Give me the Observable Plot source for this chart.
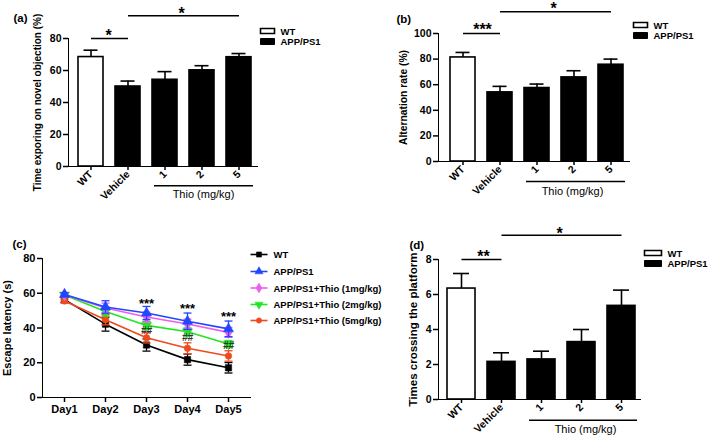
<!DOCTYPE html>
<html><head><meta charset="utf-8">
<script src="https://cdn.jsdelivr.net/npm/d3@7"></script>
<script src="https://cdn.jsdelivr.net/npm/@observablehq/plot@0.6"></script>
<style>
html,body{margin:0;padding:0;background:#fff;}
#fig{position:relative;width:709px;height:439px;overflow:hidden;background:#fff;}
#fig > svg{position:absolute;left:0;top:0;}
#fig g[aria-label*="axis"] path, #fig g[aria-label*="axis"] line{stroke-width:1.5px;}
</style></head><body><div id="fig"></div>
<script>
// ---------- data ----------
const groups = ["WT", "Vehicle", "1", "2", "5"];
const genotype = ["WT", "APP/PS1", "APP/PS1", "APP/PS1", "APP/PS1"];
const novelMean = [68.4, 50.0, 54.2, 60.1, 68.3];
const novelSem = [4.3, 3.4, 5.1, 2.9, 2.3];
const altMean = [81.3, 54.0, 57.4, 65.7, 75.6];
const altSem = [3.9, 4.7, 3.1, 5.2, 4.4];
const crossMean = [6.34, 2.15, 2.29, 3.28, 5.35];
const crossSem = [0.86, 0.52, 0.47, 0.72, 0.90];
const ticksA = [0, 20, 40, 60, 80];
const ticksB = [0, 20, 40, 60, 80, 100];
const ticksC = [0, 20, 40, 60, 80];
const ticksD = [0, 2, 4, 6, 8];

const days = ["Day1", "Day2", "Day3", "Day4", "Day5"];
const seriesNames = ["WT", "APP/PS1", "APP/PS1+Thio (1mg/kg)", "APP/PS1+Thio (2mg/kg)", "APP/PS1+Thio (5mg/kg)"];
const latencyWT = [56.3, 42.2, 30.2, 21.8, 17.1];
const latencyWTSem = [1.5, 4.0, 3.5, 3.2, 3.0];
const latencyAPP = [59.3, 52.1, 48.6, 43.9, 39.5];
const latencyAPPSem = [1.0, 3.6, 3.8, 4.7, 4.5];
const latency1 = [59.2, 51.5, 46.3, 42.3, 37.5];
const latency1Sem = [1.0, 2.8, 2.8, 2.8, 2.8];
const latency2 = [59.0, 49.5, 41.5, 37.8, 30.8];
const latency2Sem = [1.0, 2.5, 2.3, 2.3, 2.0];
const latency5 = [55.5, 44.8, 34.4, 28.3, 23.9];
const latency5Sem = [1.2, 3.0, 3.0, 3.2, 3.0];
const starDays = ["Day3", "Day4", "Day5"];
const starLevel = [54.1, 50.8, 46.4];
const hashLevel = [38.6, 34.4, 29.7];

// ---------- styling ----------
const FONT = "'Liberation Sans', Arial, Helvetica, sans-serif";
const seriesColors = ["#000000", "#2146ff", "#ee5cf0", "#22e622", "#f04a1c"];
const rectSym = (w, h) => ({draw(ctx) { ctx.rect(-w / 2, -h / 2, w, h); }});
const hline = (w) => ({draw(ctx) { ctx.moveTo(-w / 2, 0); ctx.lineTo(w / 2, 0); }});
const triDown = {draw(ctx, size) {
  const y = -Math.sqrt(size / (Math.sqrt(3) * 3));
  ctx.moveTo(0, -2 * y); ctx.lineTo(-Math.sqrt(3) * y, y); ctx.lineTo(Math.sqrt(3) * y, y); ctx.closePath();
}};
const fig = document.getElementById("fig");

function helpers(P) {
  const T = (text, px, py, o = {}) => Plot.text([text], {frameAnchor: "top-left", dx: px - P.ml, dy: py - P.mt, textAnchor: "start", lineAnchor: "middle", ...o});
  const D = (px, py, o = {}) => Plot.dot([0], {frameAnchor: "top-left", dx: px - P.ml, dy: py - P.mt, ...o});
  return {T, D};
}

function barPanel(cfg) {
  const P = cfg.box;
  const {T, D} = helpers(P);
  const rows = groups.map((g, i) => ({group: g, geno: genotype[i], mean: cfg.mean[i], sem: cfg.sem[i]}));
  const wt = rows.filter(d => d.geno === "WT");
  const tg = rows.filter(d => d.geno !== "WT");
  const star = (t, px, cy, fs = 16) => T(t, px, cy + 0.56 * fs, {textAnchor: "middle", lineAnchor: "bottom", fontSize: fs, fontWeight: "bold"});
  const marks = [
    Plot.ruleX(rows, {x: "group", y1: "mean", y2: d => d.mean + d.sem, strokeWidth: 1.6}),
    Plot.tickY(rows, {x: "group", y: d => d.mean + d.sem, insetLeft: cfg.cap, insetRight: cfg.cap, strokeWidth: 1.6}),
    Plot.barY(wt, {x: "group", y: "mean", fill: "white", stroke: "black", strokeWidth: 1.6}),
    Plot.barY(tg, {x: "group", y: "mean", fill: "black", stroke: "black", strokeWidth: 1.6}),
    // significance bars
    Plot.link([0], {x1: () => "WT", x2: () => "Vehicle", y1: () => cfg.sig1, y2: () => cfg.sig1, strokeWidth: 1.5}),
    Plot.link([0], {x1: () => "Vehicle", x2: () => "5", y1: () => cfg.sig2, y2: () => cfg.sig2, strokeWidth: 1.5}),
    star(cfg.sig1Label, cfg.s1[0], cfg.s1[1]),
    star("*", cfg.s2[0], cfg.s2[1]),
    // Thio group
    Plot.ruleY([cfg.thioLine], {x1: () => "1", x2: () => "5", dx: 2, strokeWidth: 1.5}),
    Plot.text(["Thio (mg/kg)"], {x: () => "2", y: () => cfg.thioText, dx: cfg.thioDx, lineAnchor: "bottom", fontSize: 11, fontWeight: "normal"}),
    // y label and panel label
    Plot.text([cfg.ylabel], {frameAnchor: "left", dx: cfg.ylDx, rotate: -90, textAnchor: "middle", lineAnchor: "middle", fontSize: cfg.ylFs, fontWeight: "bold"}),
    T(cfg.panel, cfg.pl[0], cfg.pl[1], {lineAnchor: "bottom", fontSize: 11.5, fontWeight: "bold"}),
    // legend
    D(cfg.lg[0] + cfg.lg[2] / 2, cfg.lg[1], {symbol: rectSym(cfg.lg[2], 5), fill: "white", stroke: "black", strokeWidth: 1.6}),
    D(cfg.lg[0] + cfg.lg[2] / 2, cfg.lg[1] + cfg.lg[3], {symbol: rectSym(cfg.lg[2], 6), fill: "black", stroke: "black", strokeWidth: 1}),
    T("WT", cfg.lg[0] + cfg.lg[2] + 6, cfg.lg[1] + 0.5, {fontSize: 9.5, fontWeight: "bold"}),
    T("APP/PS1", cfg.lg[0] + cfg.lg[2] + 6, cfg.lg[1] + cfg.lg[3] + 0.5, {fontSize: 9.5, fontWeight: "bold"})
  ];
  return Plot.plot({
    width: 709, height: 439,
    marginLeft: P.ml, marginRight: P.mr, marginTop: P.mt, marginBottom: P.mb,
    style: {background: "transparent", overflow: "visible", fontFamily: FONT, fontSize: "10.5px", fontWeight: "bold", color: "black"},
    x: {domain: groups, paddingInner: cfg.pi, paddingOuter: cfg.po, align: cfg.align, tickRotate: -45, tickSize: 4, tickPadding: 2, line: true, label: null},
    y: {domain: cfg.domain, ticks: cfg.ticks, tickSize: 5, tickPadding: 2, line: true, label: null},
    marks
  });
}

fig.append(barPanel({
  box: {ml: 68, mr: 452, mt: 38, mb: 273},
  mean: novelMean, sem: novelSem, domain: [0, 80], ticks: ticksA,
  pi: 0.33, po: 0.2, align: 0.6, cap: 5.5,
  sig1: 80, sig2: 94.2, sig1Label: "*", s1: [108, 32], s2: [181, 10],
  thioLine: -12.1, thioText: -19.7, thioDx: 1.5,
  ylabel: "Time exporing on novel objection (%)", ylDx: -31, ylFs: 10,
  panel: "(a)", pl: [13, 21],
  lg: [260, 30.5, 14, 10.5]
}));

fig.append(barPanel({
  box: {ml: 438, mr: 80, mt: 33, mb: 278},
  mean: altMean, sem: altSem, domain: [0, 100], ticks: ticksB,
  pi: 0.32, po: 0.2, align: 0.67, cap: 5.5,
  sig1: 100, sig2: 116.9, sig1Label: "***", s1: [482, 26], s2: [553, 4.5],
  thioLine: -15.6, thioText: -26.5, thioDx: -1.5,
  ylabel: "Alternation rate (%)", ylDx: -35, ylFs: 10.3,
  panel: "(b)", pl: [396, 22],
  lg: [633, 24.5, 14, 10.5]
}));

fig.append(barPanel({
  box: {ml: 438, mr: 69, mt: 259, mb: 40},
  mean: crossMean, sem: crossSem, domain: [0, 8], ticks: ticksD,
  pi: 0.30, po: 0.16, align: 0.62, cap: 6,
  sig1: 8, sig2: 9.39, sig1Label: "**", s1: [483, 253], s2: [559, 230],
  thioLine: -1.18, thioText: -1.93, thioDx: 4,
  ylabel: "Times crossing the platform", ylDx: -25, ylFs: 11.5,
  panel: "(d)", pl: [409, 248],
  lg: [644, 252.5, 17, 10.5]
}));

// ---------- panel (c) ----------
(function () {
  const P = {ml: 42, mr: 459, mt: 258, mb: 42};
  const {T, D} = helpers(P);
  const means = [latencyWT, latencyAPP, latency1, latency2, latency5];
  const sems = [latencyWTSem, latencyAPPSem, latency1Sem, latency2Sem, latency5Sem];
  const symbols = ["square", "triangle", "diamond", triDown, "circle"];
  const radius = [3.6, 3.8, 3.8, 3.8, 3.3];
  const order = [0, 4, 3, 2, 1];
  const marks = [];
  for (const k of order) {
    const rows = days.map((d, i) => ({day: d, value: means[k][i], sem: sems[k][i]}));
    const c = seriesColors[k];
    marks.push(
      Plot.ruleX(rows, {x: "day", y1: d => d.value - d.sem, y2: d => d.value + d.sem, stroke: c, strokeWidth: 1.3}),
      Plot.dot(rows, {x: "day", y: d => d.value + d.sem, symbol: hline(8), fill: "none", stroke: c, strokeWidth: 1.3}),
      Plot.dot(rows, {x: "day", y: d => d.value - d.sem, symbol: hline(8), fill: "none", stroke: c, strokeWidth: 1.3}),
      Plot.line(rows, {x: "day", y: "value", stroke: c, strokeWidth: 1.6}),
      Plot.dot(rows, {x: "day", y: "value", symbol: symbols[k], r: radius[k], fill: c, stroke: c, strokeWidth: 0.5})
    );
  }
  const stars = starDays.map((d, i) => ({day: d, y: starLevel[i], h: hashLevel[i]}));
  marks.push(
    Plot.text(stars, {x: "day", y: "y", text: () => "***", fontSize: 13, fontWeight: "bold"}),
    Plot.text(stars, {x: "day", y: "h", text: () => "##", fontSize: 10, fontWeight: "bold", fontStyle: "italic", fill: "#333"}),
    Plot.text(["Escape latency (s)"], {frameAnchor: "left", dx: -35, rotate: -90, textAnchor: "middle", lineAnchor: "middle", fontSize: 11, fontWeight: "bold"}),
    T("(c)", 12, 247, {lineAnchor: "bottom", fontSize: 11.5, fontWeight: "bold"})
  );
  const rowsY = [254, 271, 287.5, 304, 320];
  seriesNames.forEach((s, k) => {
    marks.push(
      D(258.5, rowsY[k], {symbol: hline(17), fill: "none", stroke: seriesColors[k], strokeWidth: 1.6}),
      D(258.5, rowsY[k], {symbol: symbols[k], r: radius[k] * 0.8, fill: seriesColors[k], stroke: seriesColors[k], strokeWidth: 0.5}),
      T(s, 273, rowsY[k] + 0.5, {fontSize: 9.5, fontWeight: "bold"})
    );
  });
  fig.append(Plot.plot({
    width: 709, height: 439,
    marginLeft: P.ml, marginRight: P.mr, marginTop: P.mt, marginBottom: P.mb,
    style: {background: "transparent", overflow: "visible", fontFamily: FONT, fontSize: "11px", fontWeight: "bold", color: "black"},
    x: {type: "point", domain: days, padding: 0.5, tickSize: 5, tickPadding: 3, line: true, label: null},
    y: {domain: [0, 80], ticks: ticksC, tickSize: 5, tickPadding: 2, line: true, label: null},
    marks
  }));
})();
</script>
</body></html>
